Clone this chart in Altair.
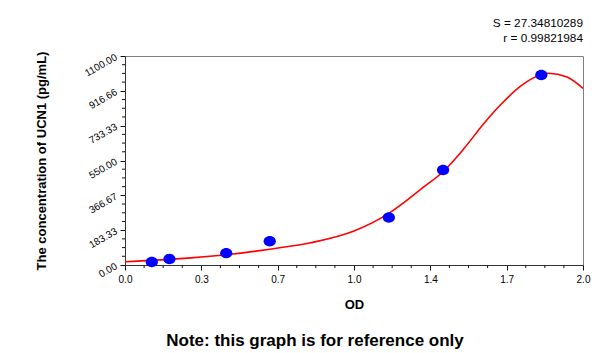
import altair as alt
import pandas as pd

# Standard points (OD, concentration)
od = [0.117, 0.194, 0.442, 0.632, 1.152, 1.389, 1.818]
conc = [15.63, 31.25, 62.5, 125.0, 250.0, 500.0, 1000.0]

# Fitted curve
curve_x = [0.0, 0.226, 0.442, 0.632, 0.81, 1.0, 1.152, 1.306, 1.389, 1.481,
           1.568, 1.639, 1.726, 1.784, 1.85, 1.93, 2.0]
curve_y = [17, 32, 54, 83, 117, 179, 272, 412, 491, 614,
           746, 842, 940, 985, 1009, 990, 930]

x_labels = ["0.0", "0.3", "0.7", "1.0", "1.4", "1.7", "2.0"]
y_labels = ["0.00", "183.33", "366.67", "550.00", "733.33", "916.66", "1100.00"]
s_text = "S = 27.34810289"
r_text = "r = 0.99821984"
note_text = "Note: this graph is for reference only"

pts = pd.DataFrame({"od": od, "conc": conc})
crv = pd.DataFrame({"od": curve_x, "conc": curve_y})

FONT = "Liberation Sans"
x_vals = [round(k / 12, 6) for k in range(25)]
y_vals = [round(k * 1100 / 24, 4) for k in range(25)]
x_major_vals = [round(k / 3, 6) for k in range(7)]
y_major_vals = [round(k * 1100 / 6, 4) for k in range(7)]
x_minor_vals = [v for k, v in enumerate(x_vals) if k % 4]
y_minor_vals = [v for k, v in enumerate(y_vals) if k % 4]


def expr_for(majors, labels):
    parts = []
    for v, s in zip(majors, labels):
        parts.append(f"abs(datum.value - {v}) < 0.01 ? '{s}' : ")
    return "".join(parts) + "''"


x_scale = alt.Scale(domain=[0, 2], nice=False, zero=False)
y_scale = alt.Scale(domain=[0, 1100], nice=False, zero=False)
TICK = "#111111"

x_axis = alt.Axis(
    title="OD", values=x_major_vals, grid=False, ticks=True,
    labelExpr=expr_for(x_major_vals, x_labels),
    tickSize=5, tickWidth=1, tickColor=TICK, domain=True,
    domainColor="#333333", labelFont=FONT, labelFontSize=10,
    labelColor="#000000", labelPadding=4, labelOverlap=False, labelFlush=False,
    titleFont=FONT, titleFontSize=13, titleFontWeight="bold", titlePadding=14,
    titleColor="#000000",
)
y_axis = alt.Axis(
    title="The concentration of UCN1 (pg/mL)", values=y_major_vals, grid=False, ticks=True,
    labelExpr=expr_for(y_major_vals, y_labels),
    tickSize=5, tickWidth=1, tickColor=TICK, domain=True,
    domainColor="#333333", labelFont=FONT, labelFontSize=10,
    labelColor="#000000", labelAngle=330, labelAlign="right", labelBaseline="middle",
    labelPadding=4, labelOverlap=False, labelFlush=False,
    titleFont=FONT, titleFontSize=13, titleFontWeight="bold", titlePadding=34,
    titleColor="#000000",
)

line = alt.Chart(crv).mark_line(color="#ff0000", strokeWidth=1.6, interpolate="monotone").encode(
    x=alt.X("od:Q", scale=x_scale, axis=x_axis),
    y=alt.Y("conc:Q", scale=y_scale, axis=y_axis),
)

ellipse = "M -1 0 A 1 0.85 0 1 1 1 0 A 1 0.85 0 1 1 -1 0 Z"
points = alt.Chart(pts).mark_point(filled=True, shape=ellipse, size=150,
                                   color="#0000ff", opacity=1).encode(
    x=alt.X("od:Q", scale=x_scale, axis=x_axis),
    y=alt.Y("conc:Q", scale=y_scale, axis=y_axis),
)

# minor tick marks drawn through the scales
xt_minor = alt.Chart(pd.DataFrame({"v": x_minor_vals})).mark_rule(color=TICK, strokeWidth=1).encode(
    x=alt.X("v:Q", scale=x_scale, axis=x_axis), y=alt.value(209), y2=alt.value(212))
yt_minor = alt.Chart(pd.DataFrame({"v": y_minor_vals})).mark_rule(color=TICK, strokeWidth=1).encode(
    y=alt.Y("v:Q", scale=y_scale, axis=y_axis), x=alt.value(-3), x2=alt.value(0))

s_mark = alt.Chart(pd.DataFrame({"t": [s_text]})).mark_text(
    align="right", baseline="middle", font=FONT, fontSize=11.8, color="#000000"
).encode(text="t:N", x=alt.value(458), y=alt.value(-33))
r_mark = alt.Chart(pd.DataFrame({"t": [r_text]})).mark_text(
    align="right", baseline="middle", font=FONT, fontSize=11.8, color="#000000"
).encode(text="t:N", x=alt.value(458), y=alt.value(-18))
note_mark = alt.Chart(pd.DataFrame({"t": [note_text]})).mark_text(
    align="center", baseline="middle", font=FONT, fontSize=17, fontWeight="bold",
    color="#000000"
).encode(text="t:N", x=alt.value(190), y=alt.value(285))

chart = alt.layer(line, points, xt_minor, yt_minor,
                  s_mark, r_mark, note_mark).properties(
    width=458, height=209,
    autosize=alt.AutoSizeParams(type="none"),
    padding={"left": 125, "top": 56, "right": 17, "bottom": 88},
    background="#ffffff",
).configure_view(stroke="#808080", strokeWidth=1)

chart.save("out.html", embed_options={"renderer": "svg", "actions": False})
